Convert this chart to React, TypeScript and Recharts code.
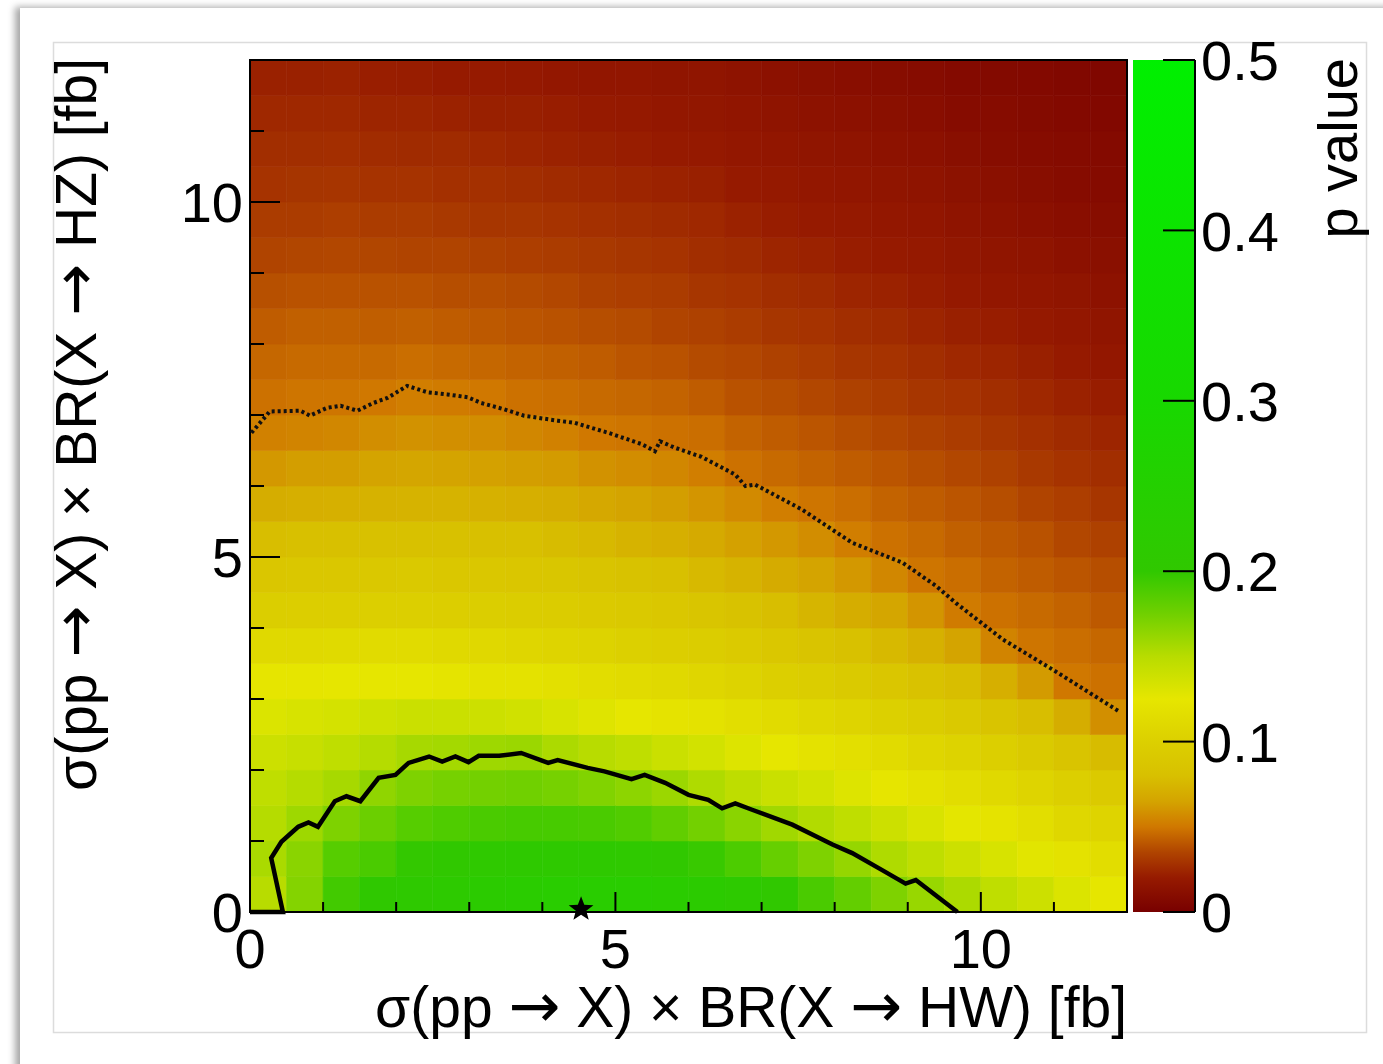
import { ScatterChart, Scatter, XAxis, YAxis, ReferenceArea } from 'recharts'

// cell centres of the p-value map (0.5 fb bins)
const xCenters = [0.25, 0.75, 1.25, 1.75, 2.25, 2.75, 3.25, 3.75, 4.25, 4.75, 5.25, 5.75, 6.25, 6.75, 7.25, 7.75, 8.25, 8.75, 9.25, 9.75, 10.25, 10.75, 11.25, 11.75]
const yCenters = [0.25, 0.75, 1.25, 1.75, 2.25, 2.75, 3.25, 3.75, 4.25, 4.75, 5.25, 5.75, 6.25, 6.75, 7.25, 7.75, 8.25, 8.75, 9.25, 9.75, 10.25, 10.75, 11.25, 11.75]

// p value per column (one array per x centre, bottom to top)
const pColumns = [
  [0.150, 0.155, 0.151, 0.146, 0.139, 0.131, 0.124, 0.110, 0.097, 0.088, 0.079, 0.070, 0.061, 0.053, 0.048, 0.045, 0.042, 0.0385, 0.035, 0.032, 0.029, 0.027, 0.025, 0.0225],
  [0.168, 0.166, 0.159, 0.151, 0.142, 0.133, 0.124, 0.110, 0.098, 0.089, 0.080, 0.071, 0.063, 0.054, 0.049, 0.046, 0.043, 0.039, 0.0355, 0.032, 0.0295, 0.027, 0.025, 0.0225],
  [0.193, 0.185, 0.170, 0.156, 0.146, 0.135, 0.125, 0.111, 0.098, 0.089, 0.080, 0.0715, 0.063, 0.055, 0.049, 0.046, 0.043, 0.039, 0.036, 0.033, 0.0296, 0.0273, 0.025, 0.023],
  [0.203, 0.190, 0.177, 0.164, 0.151, 0.138, 0.125, 0.112, 0.099, 0.0895, 0.081, 0.0725, 0.065, 0.0575, 0.050, 0.046, 0.0426, 0.039, 0.0355, 0.032, 0.029, 0.0264, 0.024, 0.0215],
  [0.207, 0.199, 0.185, 0.170, 0.156, 0.140, 0.125, 0.112, 0.099, 0.091, 0.081, 0.073, 0.066, 0.059, 0.052, 0.047, 0.043, 0.039, 0.035, 0.032, 0.029, 0.026, 0.024, 0.021],
  [0.214, 0.202, 0.188, 0.173, 0.157, 0.140, 0.123, 0.110, 0.098, 0.089, 0.081, 0.073, 0.065, 0.058, 0.051, 0.046, 0.042, 0.038, 0.035, 0.031, 0.028, 0.026, 0.023, 0.020],
  [0.220, 0.205, 0.190, 0.174, 0.159, 0.139, 0.121, 0.109, 0.097, 0.089, 0.080, 0.072, 0.064, 0.057, 0.050, 0.045, 0.041, 0.038, 0.034, 0.030, 0.028, 0.025, 0.022, 0.020],
  [0.226, 0.207, 0.191, 0.175, 0.160, 0.137, 0.120, 0.107, 0.096, 0.088, 0.080, 0.071, 0.063, 0.055, 0.048, 0.044, 0.040, 0.037, 0.033, 0.030, 0.027, 0.024, 0.022, 0.019],
  [0.230, 0.208, 0.191, 0.173, 0.154, 0.133, 0.118, 0.105, 0.095, 0.087, 0.078, 0.070, 0.062, 0.053, 0.047, 0.043, 0.039, 0.036, 0.032, 0.029, 0.026, 0.023, 0.021, 0.018],
  [0.231, 0.208, 0.190, 0.169, 0.150, 0.129, 0.115, 0.103, 0.093, 0.085, 0.076, 0.067, 0.059, 0.050, 0.046, 0.042, 0.038, 0.034, 0.031, 0.028, 0.025, 0.022, 0.020, 0.017],
  [0.229, 0.205, 0.187, 0.165, 0.146, 0.125, 0.113, 0.100, 0.091, 0.082, 0.073, 0.065, 0.057, 0.049, 0.045, 0.040, 0.037, 0.033, 0.030, 0.027, 0.024, 0.021, 0.019, 0.017],
  [0.225, 0.202, 0.181, 0.160, 0.140, 0.122, 0.110, 0.098, 0.089, 0.080, 0.071, 0.063, 0.055, 0.048, 0.044, 0.039, 0.035, 0.032, 0.029, 0.026, 0.023, 0.020, 0.018, 0.016],
  [0.219, 0.197, 0.174, 0.153, 0.136, 0.120, 0.107, 0.096, 0.086, 0.076, 0.068, 0.060, 0.052, 0.047, 0.042, 0.037, 0.034, 0.030, 0.027, 0.025, 0.022, 0.019, 0.0175, 0.016],
  [0.211, 0.189, 0.166, 0.147, 0.130, 0.116, 0.103, 0.093, 0.082, 0.073, 0.064, 0.056, 0.048, 0.044, 0.039, 0.036, 0.032, 0.029, 0.026, 0.023, 0.020, 0.018, 0.0165, 0.0147],
  [0.200, 0.179, 0.158, 0.141, 0.125, 0.112, 0.099, 0.089, 0.079, 0.069, 0.061, 0.052, 0.046, 0.042, 0.038, 0.034, 0.030, 0.027, 0.024, 0.021, 0.019, 0.017, 0.015, 0.013],
  [0.190, 0.170, 0.152, 0.136, 0.121, 0.108, 0.096, 0.085, 0.074, 0.065, 0.057, 0.049, 0.044, 0.040, 0.036, 0.032, 0.029, 0.026, 0.023, 0.020, 0.018, 0.016, 0.014, 0.012],
  [0.180, 0.162, 0.146, 0.130, 0.117, 0.104, 0.092, 0.081, 0.070, 0.061, 0.052, 0.047, 0.042, 0.038, 0.034, 0.030, 0.027, 0.024, 0.021, 0.019, 0.017, 0.015, 0.013, 0.011],
  [0.170, 0.153, 0.139, 0.124, 0.112, 0.100, 0.088, 0.076, 0.066, 0.055, 0.048, 0.044, 0.040, 0.036, 0.032, 0.029, 0.026, 0.023, 0.020, 0.018, 0.016, 0.014, 0.012, 0.010],
  [0.161, 0.146, 0.132, 0.119, 0.107, 0.096, 0.083, 0.072, 0.060, 0.049, 0.046, 0.042, 0.038, 0.034, 0.030, 0.027, 0.024, 0.021, 0.019, 0.017, 0.015, 0.013, 0.011, 0.0095],
  [0.154, 0.139, 0.126, 0.115, 0.103, 0.091, 0.079, 0.065, 0.051, 0.047, 0.043, 0.040, 0.036, 0.032, 0.029, 0.025, 0.022, 0.0195, 0.0175, 0.0155, 0.0135, 0.0115, 0.0095, 0.008],
  [0.146, 0.133, 0.122, 0.110, 0.099, 0.085, 0.071, 0.054, 0.048, 0.044, 0.041, 0.038, 0.034, 0.030, 0.027, 0.024, 0.021, 0.018, 0.016, 0.014, 0.012, 0.010, 0.009, 0.0075],
  [0.139, 0.127, 0.116, 0.104, 0.092, 0.079, 0.062, 0.049, 0.046, 0.042, 0.039, 0.035, 0.031, 0.028, 0.025, 0.022, 0.019, 0.017, 0.015, 0.0125, 0.0105, 0.0093, 0.0082, 0.0071],
  [0.131, 0.121, 0.108, 0.099, 0.085, 0.070, 0.050, 0.047, 0.044, 0.040, 0.036, 0.033, 0.029, 0.026, 0.023, 0.020, 0.018, 0.016, 0.013, 0.011, 0.0096, 0.0084, 0.0073, 0.0062],
  [0.125, 0.115, 0.105, 0.093, 0.078, 0.058, 0.048, 0.045, 0.041, 0.038, 0.034, 0.030, 0.027, 0.024, 0.021, 0.018, 0.016, 0.014, 0.012, 0.010, 0.0088, 0.0077, 0.0065, 0.0053]
]

// solid contour (68% region) and dotted contour (95% region)
const solidContour = [
  { x: 0, y: 0 }, { x: 0.45, y: 0 }, { x: 0.29, y: 0.76 }, { x: 0.43, y: 0.99 }, { x: 0.66, y: 1.2 },
  { x: 0.8, y: 1.26 }, { x: 0.93, y: 1.2 }, { x: 1.16, y: 1.56 }, { x: 1.32, y: 1.63 }, { x: 1.51, y: 1.56 },
  { x: 1.76, y: 1.89 }, { x: 1.99, y: 1.93 }, { x: 2.17, y: 2.1 }, { x: 2.45, y: 2.19 }, { x: 2.63, y: 2.12 },
  { x: 2.81, y: 2.19 }, { x: 2.99, y: 2.11 }, { x: 3.13, y: 2.2 }, { x: 3.41, y: 2.2 }, { x: 3.71, y: 2.24 },
  { x: 4.08, y: 2.1 }, { x: 4.21, y: 2.14 }, { x: 4.62, y: 2.03 }, { x: 4.85, y: 1.98 }, { x: 5.22, y: 1.87 },
  { x: 5.4, y: 1.93 }, { x: 5.68, y: 1.82 }, { x: 6.0, y: 1.65 }, { x: 6.27, y: 1.58 }, { x: 6.46, y: 1.46 },
  { x: 6.64, y: 1.53 }, { x: 6.87, y: 1.44 }, { x: 7.42, y: 1.23 }, { x: 7.97, y: 0.95 }, { x: 8.24, y: 0.83 },
  { x: 8.65, y: 0.59 }, { x: 8.97, y: 0.4 }, { x: 9.11, y: 0.45 }, { x: 9.68, y: 0 }
]
const dottedContour = [
  { x: 0.02, y: 6.75 }, { x: 0.18, y: 6.94 }, { x: 0.27, y: 7.05 }, { x: 0.69, y: 7.06 }, { x: 0.82, y: 6.99 },
  { x: 1.05, y: 7.1 }, { x: 1.24, y: 7.13 }, { x: 1.47, y: 7.06 }, { x: 1.69, y: 7.17 }, { x: 1.88, y: 7.24 },
  { x: 2.15, y: 7.41 }, { x: 2.43, y: 7.32 }, { x: 2.7, y: 7.29 }, { x: 2.98, y: 7.25 }, { x: 3.16, y: 7.17 },
  { x: 3.48, y: 7.08 }, { x: 3.75, y: 6.99 }, { x: 4.21, y: 6.92 }, { x: 4.44, y: 6.89 }, { x: 4.9, y: 6.75 },
  { x: 5.36, y: 6.59 }, { x: 5.54, y: 6.49 }, { x: 5.61, y: 6.63 }, { x: 5.81, y: 6.54 }, { x: 6.18, y: 6.41 },
  { x: 6.64, y: 6.16 }, { x: 6.78, y: 6.0 }, { x: 6.91, y: 6.02 }, { x: 7.55, y: 5.67 }, { x: 8.24, y: 5.2 },
  { x: 8.93, y: 4.92 }, { x: 9.39, y: 4.59 }, { x: 9.66, y: 4.35 }, { x: 10.3, y: 3.84 }, { x: 10.99, y: 3.41 },
  { x: 11.9, y: 2.82 }
]
const bestFit = [{ x: 4.53, y: 0.04 }]

const axisTicks = [0, 1, 2, 3, 4, 5, 6, 7, 8, 9, 10, 11, 12]
const majorTicks = [0, 5, 10]
const paletteTicks = [0, 0.1, 0.2, 0.3, 0.4, 0.5]

// colour palette of the z axis
const paletteValues = [0, 0.02, 0.035, 0.05, 0.065, 0.08, 0.1, 0.125, 0.15, 0.175, 0.2, 0.3, 0.5]
const paletteColors = ['#780000', '#961a00', '#b04400', '#d07800', '#d4a400', '#d8c000', '#dcd000', '#e6e600', '#b8dc00', '#70d000', '#30c800', '#18d800', '#00f000']

const FONT = "'Liberation Sans', Arial, Helvetica, sans-serif"
const ARROW_FONT = "'DejaVu Sans', sans-serif"
const W = 1383
const H = 1064

function hexToRgb(hex: string) {
  const n = parseInt(hex.slice(1), 16)
  return [(n >> 16) & 255, (n >> 8) & 255, n & 255]
}

function colorFor(p: number) {
  const v = Math.max(0, Math.min(0.5, p))
  let i = 0
  while (i < paletteValues.length - 2 && v > paletteValues[i + 1]) i++
  const t = (v - paletteValues[i]) / (paletteValues[i + 1] - paletteValues[i])
  const a = hexToRgb(paletteColors[i])
  const b = hexToRgb(paletteColors[i + 1])
  const c = a.map((ch, k) => Math.round(ch + (b[k] - ch) * t))
  return `rgb(${c[0]},${c[1]},${c[2]})`
}

const halfX = (xCenters[1] - xCenters[0]) / 2
const halfY = (yCenters[1] - yCenters[0]) / 2
const cells = pColumns.flatMap((col, i) =>
  col.map((p, j) => ({
    key: `${i}-${j}`,
    x1: xCenters[i] - halfX,
    x2: xCenters[i] + halfX,
    y1: yCenters[j] - halfY,
    y2: yCenters[j] + halfY,
    fill: colorFor(p)
  }))
)

function XTick({ x, y, payload }: any) {
  const major = majorTicks.includes(payload.value)
  return (
    <g>
      <line x1={x} x2={x} y1={y} y2={y - (major ? 20 : 10)} stroke="#000" strokeWidth={2} />
      {major && (
        <text x={x} y={y + 56} textAnchor="middle" fontSize={56} fontFamily={FONT} fill="#000">
          {payload.value}
        </text>
      )}
    </g>
  )
}

function YTick({ x, y, payload }: any) {
  const major = majorTicks.includes(payload.value)
  return (
    <g>
      <line x1={x} x2={x + (major ? 30 : 14)} y1={y} y2={y} stroke="#000" strokeWidth={2} />
      {major && (
        <text x={x - 7} y={y} dy="0.36em" textAnchor="end" fontSize={56} fontFamily={FONT} fill="#000">
          {payload.value}
        </text>
      )}
    </g>
  )
}

function PaletteTick({ x, y, payload }: any) {
  return (
    <g>
      <line x1={x - 32} x2={x} y1={y} y2={y} stroke="#000" strokeWidth={2} />
      <text x={x + 6} y={y} dy="0.36em" textAnchor="start" fontSize={56} fontFamily={FONT} fill="#000">
        {payload.value}
      </text>
    </g>
  )
}

function StarShape({ cx, cy }: any) {
  const pts: string[] = []
  for (let k = 0; k < 10; k++) {
    const r = k % 2 === 0 ? 13 : 5.5
    const a = -Math.PI / 2 + (k * Math.PI) / 5
    pts.push(`${cx + r * Math.cos(a)},${cy + r * Math.sin(a)}`)
  }
  return <polygon points={pts.join(' ')} fill="#000" />
}

function Arrow() {
  return (
    <tspan fontFamily={ARROW_FONT} fontSize={62}>
      →
    </tspan>
  )
}

const noDot = () => <g />

export default function App() {
  return (
    <div style={{ position: 'relative', width: W, height: H, overflow: 'hidden', background: '#fff', fontFamily: FONT }}>
      <style>{'body { margin: 0; }'}</style>
      <div
        style={{
          position: 'absolute',
          left: 20,
          top: 8,
          width: W + 40,
          height: H + 40,
          background: '#fff',
          boxShadow: '-5px -1px 7px rgba(0,0,0,0.35)'
        }}
      />
      <svg width={W} height={H} style={{ position: 'absolute', left: 0, top: 0 }}>
        <rect x={53.5} y={42.5} width={1313} height={990} fill="none" stroke="#dcdcdc" strokeWidth={1.5} />
        <text x={1127} y={1027} textAnchor="end" fontSize={57} fontFamily={FONT} fill="#000">
          σ(pp <Arrow /> X) × BR(X <Arrow /> HW) [fb]
        </text>
        <text transform="translate(96,58) rotate(-90)" textAnchor="end" fontSize={57} fontFamily={FONT} fill="#000">
          σ(pp <Arrow /> X) × BR(X <Arrow /> HZ) [fb]
        </text>
        <text transform="translate(1357,58) rotate(-90)" textAnchor="end" fontSize={56} fontFamily={FONT} fill="#000">
          p value
        </text>
      </svg>

      <div style={{ position: 'absolute', left: 0, top: 0 }}>
        <ScatterChart width={W} height={H} margin={{ top: 60, right: 256, bottom: 92, left: 190 }}>
          <XAxis
            type="number"
            dataKey="x"
            domain={[0, 12]}
            ticks={axisTicks}
            interval={0}
            height={60}
            tickSize={0}
            tickMargin={0}
            axisLine={{ stroke: '#000', strokeWidth: 2 }}
            tick={(props: any) => <XTick {...props} />}
          />
          <YAxis
            type="number"
            dataKey="y"
            domain={[0, 12]}
            ticks={axisTicks}
            interval={0}
            width={60}
            tickSize={0}
            tickMargin={0}
            axisLine={{ stroke: '#000', strokeWidth: 2 }}
            tick={(props: any) => <YTick {...props} />}
          />
          {cells.map((c) => (
            <ReferenceArea
              key={c.key}
              x1={c.x1}
              x2={c.x2}
              y1={c.y1}
              y2={c.y2}
              fill={c.fill}
              fillOpacity={1}
              stroke={c.fill}
              strokeWidth={0.6}
            />
          ))}
          <ReferenceArea x1={0} x2={12} y1={0} y2={12} fill="none" fillOpacity={0} stroke="#000" strokeWidth={2} />
          <Scatter
            data={dottedContour}
            shape={noDot}
            line={{ stroke: '#111', strokeWidth: 4, strokeDasharray: '3 3' }}
            isAnimationActive={false}
          />
          <Scatter
            data={solidContour}
            shape={noDot}
            line={{ stroke: '#000', strokeWidth: 4.5 }}
            isAnimationActive={false}
          />
          <Scatter data={bestFit} shape={(p: any) => <StarShape {...p} />} isAnimationActive={false} />
        </ScatterChart>
      </div>

      <div style={{ position: 'absolute', left: 0, top: 0 }}>
        <ScatterChart width={W} height={H} margin={{ top: 60, right: 128, bottom: 152, left: 1133 }}>
          <defs>
            <linearGradient id="pvalGradient" x1="0" y1="1" x2="0" y2="0">
              {paletteValues.map((v, i) => (
                <stop key={v} offset={v / 0.5} stopColor={paletteColors[i]} />
              ))}
            </linearGradient>
          </defs>
          <XAxis type="number" dataKey="x" domain={[0, 1]} hide />
          <YAxis
            type="number"
            dataKey="y"
            orientation="right"
            domain={[0, 0.5]}
            ticks={paletteTicks}
            interval={0}
            width={60}
            tickSize={0}
            tickMargin={0}
            axisLine={{ stroke: '#000', strokeWidth: 2 }}
            tick={(props: any) => <PaletteTick {...props} />}
          />
          <ReferenceArea x1={0} x2={1} y1={0} y2={0.5} fill="url(#pvalGradient)" fillOpacity={1} stroke="none" />
          <Scatter data={[{ x: 0, y: 0 }, { x: 1, y: 0.5 }]} shape={noDot} isAnimationActive={false} />
        </ScatterChart>
      </div>
    </div>
  )
}
